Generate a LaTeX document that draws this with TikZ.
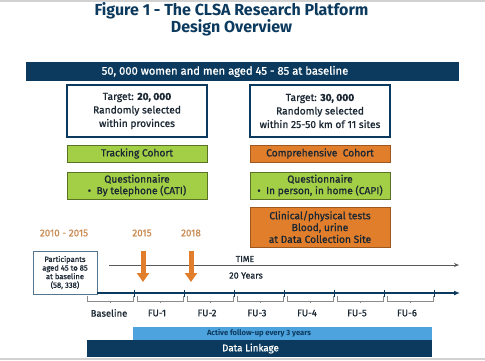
\documentclass[tikz,border=0pt]{standalone}
\usepackage{fontspec}
\setmainfont{Fira Sans}
\newfontfamily\medium{Fira Sans}[FakeBold=1]
\usepackage{tikz}
\usetikzlibrary{arrows.meta,positioning}

\definecolor{clsanavy}{HTML}{0C3A5E}
\definecolor{clsagreen}{HTML}{A2CF45}
\definecolor{clsaorange}{HTML}{E07E2C}
\definecolor{clsablue}{HTML}{4DA3DD}
\definecolor{clsatan}{HTML}{C98C55}
\definecolor{clsaink}{HTML}{1B2733}

\begin{document}
\begin{tikzpicture}[x=1pt,y=-1pt,
  txt/.style={font=\medium\fontsize{10.2}{13.5}\selectfont,text=clsaink,align=center},
  bar/.style={fill=clsanavy,draw=none,text=white,inner sep=0pt},
  targetbox/.style={txt,draw=clsanavy,line width=1.1pt,fill=white,minimum width=140pt,minimum height=52pt,inner sep=0pt},
  greenbox/.style={txt,draw=black!45!clsagreen,line width=0.6pt,fill=clsagreen,minimum width=140pt,inner sep=0pt},
  orangebox/.style={txt,draw=black!30!clsaorange,line width=0.6pt,fill=clsaorange,minimum width=140pt,inner sep=0pt},
  yearlabel/.style={font=\medium\fontsize{9.8}{10}\selectfont,text=clsatan},
  periodlabel/.style={font=\medium\fontsize{9.5}{10}\selectfont,text=clsaink},
  orangearrow/.style={draw=clsaorange,line width=5pt,-{Triangle[width=12pt,length=9pt]}},
  bracket/.style={draw=black!45,line width=0.5pt}]
\useasboundingbox (0,0) rectangle (485,360);
% screenshot edges
\fill[black!18] (0,0) rectangle (485,1.5);
\fill[black!18] (0,357.5) rectangle (485,360);
% Title
\node[font=\bfseries\fontsize{16}{17}\selectfont,text=clsanavy,align=center] (title) at (231.5,19)
  {Figure 1 - The CLSA Research Platform\\Design Overview};
% Population bar (text sits left of centre)
\node[bar,minimum width=433pt,minimum height=19pt] (pop) at (242.5,71.5) {};
\node[font=\medium\fontsize{11.2}{12}\selectfont,text=white] (poptext) at (225,71.5)
  {50, 000 women and men aged 45 - 85 at baseline};
% Two cohorts
\node[targetbox] (tgtL) at (137,111) {Target: \textbf{20, 000}\\Randomly selected\\within provinces};
\node[targetbox] (tgtR) at (320,111) {Target: \textbf{30, 000}\\Randomly selected\\within 25-50 km of 11 sites};
\node[greenbox,minimum height=17pt] (track) at (137,153.5) {Tracking Cohort};
\node[orangebox,minimum height=17pt] (comp) at (320,153.5) {Comprehensive\ \ Cohort};
\node[greenbox,minimum height=27pt,font=\medium\fontsize{10.2}{11.5}\selectfont] (qL) at (137,185.5)
  {Questionnaire\\\textbullet\ \ By telephone (CATI)};
\node[greenbox,minimum height=27pt,font=\medium\fontsize{10.2}{11.5}\selectfont] (qR) at (320,185.5)
  {Questionnaire\\\textbullet\ \ In person, in home (CAPI)};
\node[orangebox,minimum height=40pt,font=\medium\fontsize{10.2}{11.8}\selectfont] (clin) at (320,227)
  {Clinical/physical tests\\Blood, urine\\at Data Collection Site};
% Years
\node[yearlabel] (y1) at (64,233) {2010 - 2015};
\node[yearlabel] (y2) at (142,233) {2015};
\node[yearlabel] (y3) at (191,233) {2018};
% Participants
\node[draw=clsanavy!70,line width=0.5pt,fill=white,minimum width=64pt,minimum height=43pt,inner sep=0pt,
  align=center,font=\medium\fontsize{7.6}{8.6}\selectfont,text=clsaink] (part) at (65,272.5)
  {Participants\\aged 45 to 85\\at baseline\\(58, 338)};
% Time axis
\coordinate (t0) at (109,265);
\coordinate (t1) at (459,265);
\draw[black!65,line width=0.9pt,-{Stealth[length=5pt,width=4pt]}] (t0) -- (t1);
\node[font=\medium\fontsize{8.6}{9}\selectfont,text=clsaink] (time) at (245,259) {TIME};
\node[font=\medium\fontsize{9}{9}\selectfont,text=clsaink] (yrs) at (246,275.5) {20 Years};
% Orange markers
\coordinate (m1) at (143,251);
\coordinate (m2) at (191,251);
\draw[orangearrow] (m1) -- ++(0,31);
\draw[orangearrow] (m2) -- ++(0,31);
% Timeline
\coordinate (l0) at (part.south east);
\coordinate (l1) at (460,293);
\draw[clsanavy,line width=2pt,-{Latex[length=6pt,width=5pt]}] (l0 |- l1) -- (l1);
\foreach \k in {0,...,6}
  \draw[clsanavy,line width=0.6pt] ({134+50*\k},289.5) -- ({134+50*\k},296.5);
\foreach \k in {0,...,6}
  \draw[bracket] ({87+50*\k},296) -- ({87+50*\k},301) -- ({133+50*\k},301) -- ({133+50*\k},296)
    ({110+50*\k},301) -- ({110+50*\k},302.5);
\node[periodlabel] (base) at (109,313) {Baseline};
\foreach \i in {1,...,6}
  \node[periodlabel] (fu\i) at ({107+50*\i},313) {FU-\i};
% Follow-up and linkage bars
\node[fill=clsablue,minimum width=299pt,minimum height=13pt,inner sep=0pt] (active) at (282.5,333.5) {};
\node[font=\bfseries\fontsize{7.6}{8}\selectfont,text=clsanavy] (activetext) at (259,333.5) {Active follow-up every 3 years};
\node[bar,minimum width=345pt,minimum height=17pt] (link) at (259.5,348.5) {};
\node[font=\medium\fontsize{9.8}{11}\selectfont,text=white] (linktext) at (250.5,348.5) {Data Linkage};
\end{tikzpicture}
\end{document}
